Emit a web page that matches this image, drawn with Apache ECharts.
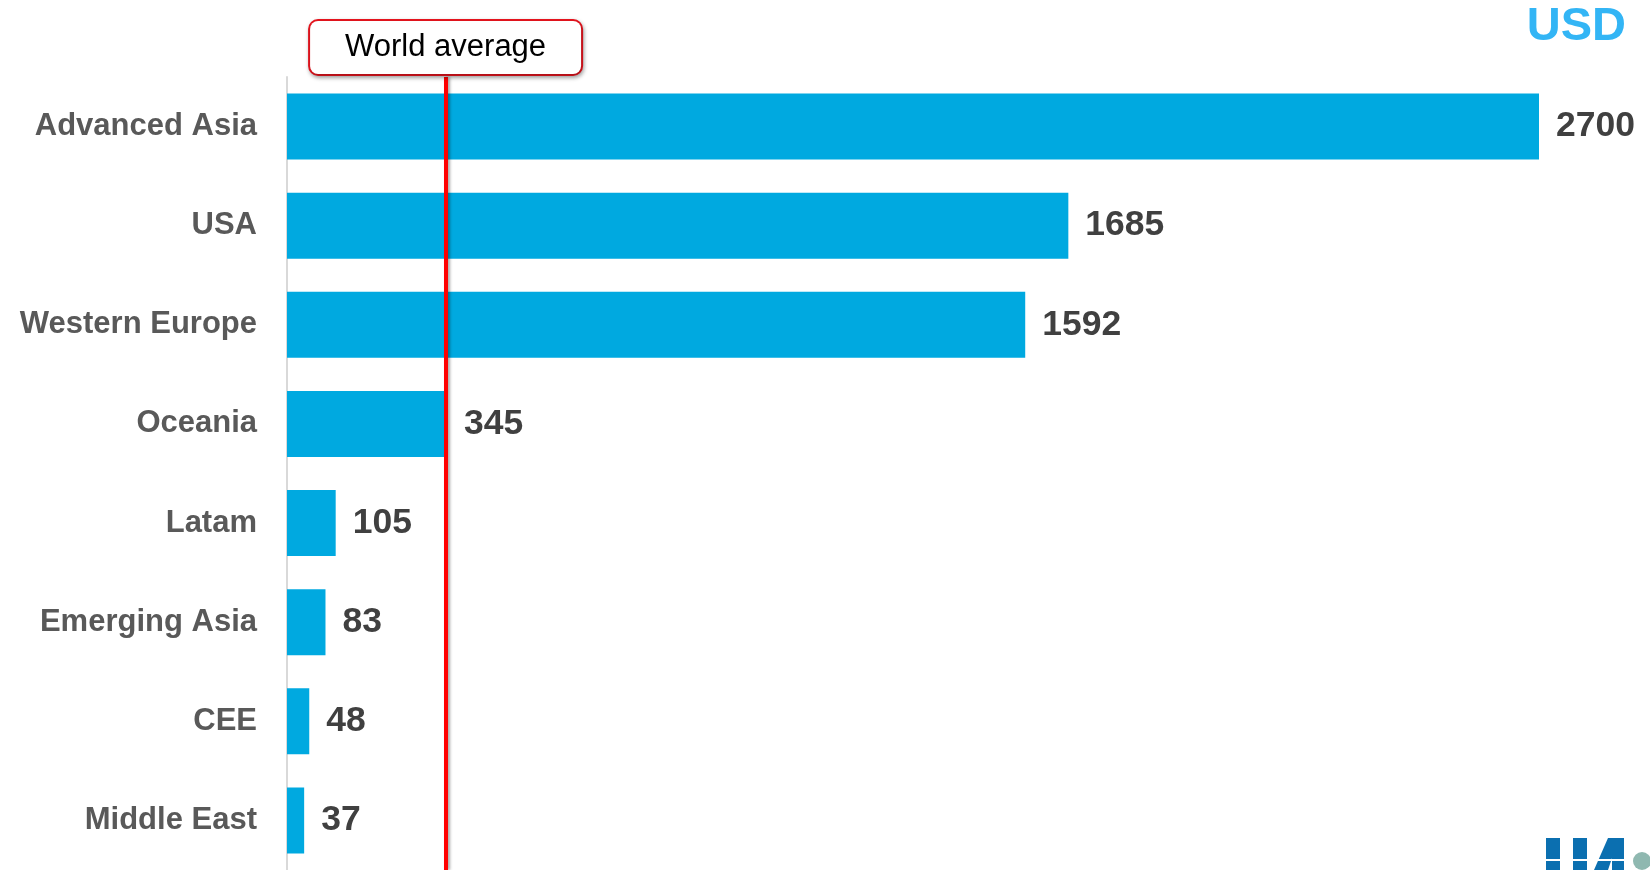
<!DOCTYPE html>
<html>
<head>
<meta charset="utf-8">
<script src="https://cdn.jsdelivr.net/npm/echarts@6/dist/echarts.min.js"></script>
<style>html,body{margin:0;padding:0;background:#fff;}#c{width:1650px;height:870px;}</style>
</head>
<body>
<div id="c"></div>
<script>
var categories = ["Advanced Asia", "USA", "Western Europe", "Oceania", "Latam", "Emerging Asia", "CEE", "Middle East"];
var values = [2700, 1685, 1592, 345, 105, 83, 48, 37];
var worldAverage = 342;
var worldAverageLabel = "World average";
var unitLabel = "USD";

var chart = echarts.init(document.getElementById('c'));
var FONT = '"Liberation Sans", Arial, sans-serif';
chart.setOption({
  backgroundColor: '#ffffff',
  animation: false,
  grid: { left: 287, right: 111, top: 77, bottom: -2, containLabel: false },
  xAxis: { type: 'value', min: 0, max: 2700, show: false },
  yAxis: {
    type: 'category', data: categories, inverse: true,
    axisLine: { show: true, lineStyle: { color: '#d9d9d9', width: 2 } },
    axisTick: { show: false },
    axisLabel: { margin: 30, color: '#595959', fontSize: 31, fontWeight: 'bold', fontFamily: FONT }
  },
  graphic: [
    { type: 'text', right: 24, top: 4, style: { text: unitLabel, fill: '#33b5f5', font: 'bold 47px ' + FONT } },
    { type: 'group', left: 1546, top: 838, children: [
      { type: 'rect', shape: { x: 0, y: 0, width: 14, height: 32 }, style: { fill: '#0b6fb0' } },
      { type: 'rect', shape: { x: 27, y: 0, width: 14, height: 32 }, style: { fill: '#0b6fb0' } },
      { type: 'polygon', shape: { points: [[48, 32], [62, 0], [78, 0], [78, 32], [66, 32], [66, 20], [62, 32]] }, style: { fill: '#0b6fb0' } },
      { type: 'rect', shape: { x: 0, y: 21, width: 104, height: 2 }, style: { fill: '#ffffff' } },
      { type: 'circle', shape: { cx: 96, cy: 23, r: 9 }, style: { fill: '#8fb8b0' } }
    ] }
  ],
  series: [{
    type: 'bar',
    data: values,
    barWidth: 66,
    itemStyle: { color: '#00a9e0' },
    label: { show: true, position: 'right', distance: 17, color: '#404040', fontSize: 35.5, fontWeight: 'bold', fontFamily: FONT },
    markLine: {
      silent: true, symbol: 'none',
      lineStyle: { color: '#ff0000', width: 4, type: 'solid', shadowColor: 'rgba(0,0,0,0.35)', shadowBlur: 3, shadowOffsetX: 2 },
      label: {
        show: true, position: 'start', formatter: worldAverageLabel, distance: 3,
        color: '#000', fontSize: 31, fontFamily: FONT,
        backgroundColor: '#fff', borderColor: '#e8141e', borderWidth: 2, borderRadius: 8,
        padding: [11, 29, 11, 29], width: 213, align: 'center',
        shadowColor: 'rgba(0,0,0,0.3)', shadowBlur: 4, shadowOffsetX: 1, shadowOffsetY: 2
      },
      data: [{ xAxis: worldAverage }]
    }
  }]
});
</script>
</body>
</html>
